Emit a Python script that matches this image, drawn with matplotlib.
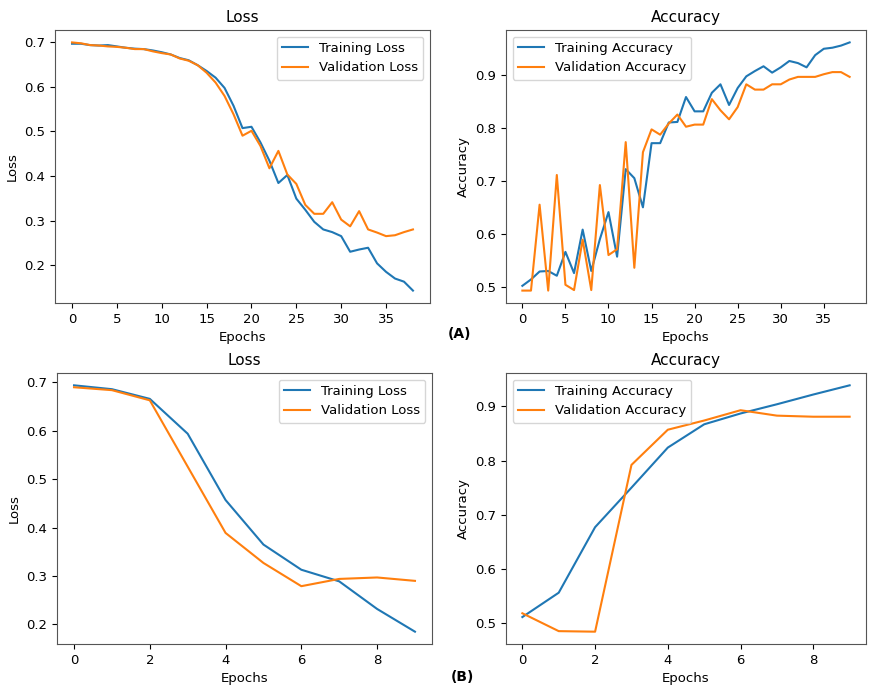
import numpy as np
import matplotlib
matplotlib.use("Agg")
import matplotlib.pyplot as plt
from matplotlib.ticker import MultipleLocator

# (A) 39 epochs
loss_a_train = [0.696, 0.696, 0.693, 0.692, 0.693, 0.690, 0.687, 0.685, 0.684, 0.681,
                0.677, 0.672, 0.664, 0.659, 0.648, 0.635, 0.620, 0.597, 0.557, 0.507,
                0.510, 0.475, 0.434, 0.384, 0.402, 0.349, 0.324, 0.297, 0.280, 0.274,
                0.265, 0.230, 0.235, 0.239, 0.204, 0.185, 0.170, 0.163, 0.143]
loss_a_val = [0.699, 0.697, 0.693, 0.692, 0.690, 0.689, 0.687, 0.684, 0.684, 0.679,
              0.675, 0.672, 0.663, 0.658, 0.648, 0.631, 0.609, 0.579, 0.538, 0.490,
              0.501, 0.467, 0.417, 0.456, 0.403, 0.382, 0.335, 0.315, 0.315, 0.341,
              0.302, 0.287, 0.321, 0.280, 0.273, 0.265, 0.267, 0.274, 0.280]
acc_a_train = [0.502, 0.514, 0.529, 0.530, 0.521, 0.566, 0.526, 0.608, 0.530, 0.590,
               0.641, 0.557, 0.722, 0.705, 0.650, 0.771, 0.771, 0.810, 0.811, 0.858,
               0.831, 0.831, 0.866, 0.882, 0.843, 0.875, 0.897, 0.907, 0.916, 0.904,
               0.914, 0.926, 0.922, 0.914, 0.937, 0.949, 0.951, 0.955, 0.961]
acc_a_val = [0.493, 0.493, 0.655, 0.493, 0.711, 0.504, 0.494, 0.589, 0.494, 0.692,
             0.560, 0.571, 0.773, 0.536, 0.754, 0.797, 0.787, 0.808, 0.825, 0.802,
             0.806, 0.806, 0.854, 0.833, 0.816, 0.839, 0.882, 0.872, 0.872, 0.882,
             0.882, 0.891, 0.896, 0.896, 0.896, 0.901, 0.905, 0.905, 0.896]

# (B) 10 epochs
loss_b_train = [0.694, 0.686, 0.666, 0.594, 0.457, 0.365, 0.313, 0.289, 0.232, 0.185]
loss_b_val = [0.690, 0.684, 0.663, 0.526, 0.389, 0.327, 0.279, 0.294, 0.297, 0.290]
acc_b_train = [0.511, 0.556, 0.677, 0.750, 0.824, 0.867, 0.887, 0.904, 0.922, 0.939]
acc_b_val = [0.518, 0.485, 0.484, 0.792, 0.857, 0.874, 0.893, 0.883, 0.881, 0.881]

plt.rcParams['font.size'] = 9.5
plt.rcParams['axes.titlesize'] = 11

W, H = 870, 690
fig = plt.figure(figsize=(W / 100, H / 100), dpi=100)

def box(l, t, r, b):
    return [l / W, 1 - b / H, (r - l) / W, (b - t) / H]

def panel(rect, train, val, kind, loc, xstep):
    ax = fig.add_axes(rect)
    ep = np.arange(len(train))
    ax.plot(ep, train, label="Training " + kind)
    ax.plot(ep, val, label="Validation " + kind)
    ax.set_title(kind)
    ax.set_xlabel("Epochs")
    ax.set_ylabel(kind)
    ax.xaxis.set_major_locator(MultipleLocator(xstep))
    ax.legend(loc=loc)
    for s in ax.spines.values():
        s.set_color("#555555")
    return ax

panel(box(55, 30, 430, 303), loss_a_train, loss_a_val, "Loss", "upper right", 5)
panel(box(506, 30, 866, 303), acc_a_train, acc_a_val, "Accuracy", "upper left", 5)
panel(box(57, 373, 432, 644), loss_b_train, loss_b_val, "Loss", "upper right", 2)
panel(box(506, 373, 866, 644), acc_b_train, acc_b_val, "Accuracy", "upper left", 2)

fig.text(460 / W, 1 - 334 / H, "(A)", ha="center", va="center", fontweight="bold", fontsize=10)
fig.text(462 / W, 1 - 677 / H, "(B)", ha="center", va="center", fontweight="bold", fontsize=10)

fig.savefig("out.png", dpi=100)
